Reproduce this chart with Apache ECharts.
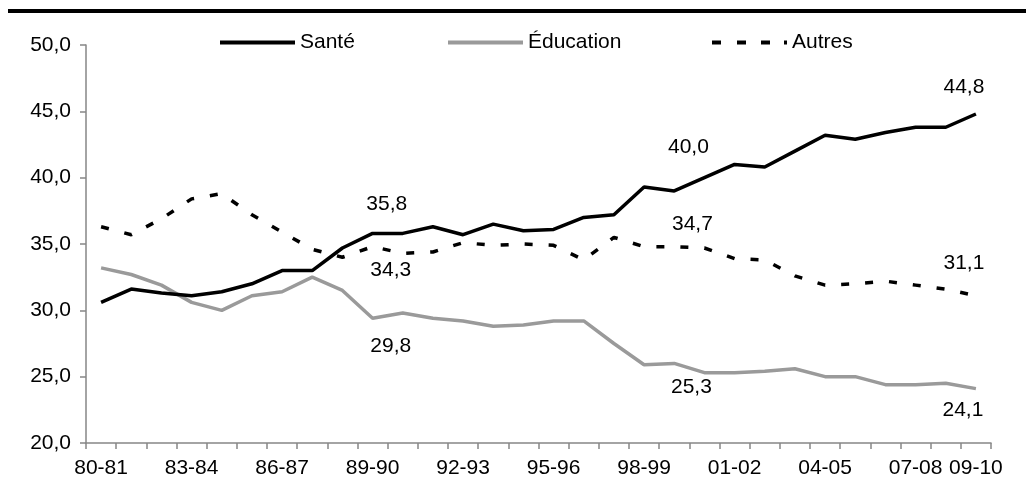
<!DOCTYPE html>
<html lang="fr">
<head>
<meta charset="utf-8">
<title>Santé, Éducation, Autres</title>
<script src="https://cdn.jsdelivr.net/npm/echarts@6/dist/echarts.min.js"></script>
<style>
  html, body { margin: 0; padding: 0; background: #fff; }
  #chart { width: 1026px; height: 503px; }
</style>
</head>
<body>
<div id="chart"></div>
<script>
// Fiscal years 1980-81 to 2009-10
const years = [
  '80-81','81-82','82-83','83-84','84-85','85-86','86-87','87-88','88-89','89-90',
  '90-91','91-92','92-93','93-94','94-95','95-96','96-97','97-98','98-99','99-00',
  '00-01','01-02','02-03','03-04','04-05','05-06','06-07','07-08','08-09','09-10'
];

// Shares (%) by sector
const sante = [
  30.6, 31.6, 31.3, 31.1, 31.4, 32.0, 33.0, 33.0, 34.7, 35.8,
  35.8, 36.3, 35.7, 36.5, 36.0, 36.1, 37.0, 37.2, 39.3, 39.0,
  40.0, 41.0, 40.8, 42.0, 43.2, 42.9, 43.4, 43.8, 43.8, 44.8
];
const education = [
  33.2, 32.7, 31.9, 30.6, 30.0, 31.1, 31.4, 32.5, 31.5, 29.4,
  29.8, 29.4, 29.2, 28.8, 28.9, 29.2, 29.2, 27.5, 25.9, 26.0,
  25.3, 25.3, 25.4, 25.6, 25.0, 25.0, 24.4, 24.4, 24.5, 24.1
];
const autres = [
  36.3, 35.7, 36.9, 38.4, 38.8, 37.2, 35.9, 34.6, 34.0, 34.8,
  34.3, 34.4, 35.1, 34.9, 35.0, 34.9, 33.8, 35.5, 34.8, 34.8,
  34.7, 33.9, 33.8, 32.6, 31.9, 32.0, 32.2, 31.9, 31.6, 31.1
];

// Years whose values are written on the lines
const labelledYears = ['90-91', '00-01', '09-10'];

const FONT = "'Liberation Sans', Arial, sans-serif";
const fmt = v => Number(v).toFixed(1).replace('.', ',');

// Value labels, shifted above or below each line
function valueLabels(values, offsets) {
  return labelledYears.map((y, k) => {
    const i = years.indexOf(y);
    return {
      coord: [i, values[i]],
      value: values[i],
      label: { offset: offsets[k] }
    };
  });
}

function markLabels(values, offsets) {
  return {
    symbol: 'circle',
    symbolSize: 0,
    silent: true,
    label: {
      show: true,
      position: 'inside',
      color: '#000',
      fontFamily: FONT,
      fontSize: 21,
      formatter: p => fmt(p.value)
    },
    data: valueLabels(values, offsets)
  };
}

// Legend keys: a solid bar, and a dashed one for "Autres"
const SOLID_KEY = 'path://M0,0h75v4h-75z';
const DASH_KEY = 'path://M0,0h9v4h-9z M25,0h9v4h-9z M49,0h9v4h-9z M72,0h3v4h-3z';

const chart = echarts.init(document.getElementById('chart'), null, { renderer: 'canvas' });

const legendBase = {
  top: 27,
  itemWidth: 75,
  itemHeight: 4,
  itemGap: 0,
  selectedMode: false,
  textStyle: { color: '#000', fontFamily: FONT, fontSize: 21, padding: 0 }
};

chart.setOption({
  animation: false,
  backgroundColor: '#fff',
  graphic: [{
    type: 'rect',
    shape: { x: 8, y: 9, width: 1030, height: 4 },
    style: { fill: '#000' },
    silent: true
  }],
  legend: [
    Object.assign({}, legendBase, { left: 215, data: [{ name: 'Santé', icon: SOLID_KEY }] }),
    Object.assign({}, legendBase, { left: 443, data: [{ name: 'Éducation', icon: SOLID_KEY }] }),
    Object.assign({}, legendBase, { left: 707, data: [{ name: 'Autres', icon: DASH_KEY }] })
  ],
  grid: { left: 86, right: 35, top: 45, bottom: 60 },
  xAxis: {
    type: 'category',
    data: years,
    boundaryGap: true,
    axisLine: { lineStyle: { color: '#868686', width: 1.5 } },
    axisTick: { show: true, interval: 0, length: 6, lineStyle: { color: '#868686', width: 1.5 } },
    axisLabel: {
      interval: (i) => i % 3 === 0 || i === years.length - 1,
      color: '#000',
      fontFamily: FONT,
      fontSize: 21,
      margin: 15
    },
    splitLine: { show: false }
  },
  yAxis: {
    type: 'value',
    min: 20,
    max: 50,
    interval: 5,
    axisLine: { show: true, lineStyle: { color: '#868686', width: 1.5 } },
    axisTick: { show: true, length: 6, lineStyle: { color: '#868686', width: 1.5 } },
    axisLabel: { color: '#000', fontFamily: FONT, fontSize: 21, margin: 15, formatter: fmt },
    splitLine: { show: false }
  },
  series: [
    {
      name: 'Santé',
      type: 'line',
      data: sante,
      symbol: 'none',
      color: '#000',
      lineStyle: { color: '#000', width: 3.5 },
      z: 4,
      markPoint: markLabels(sante, [[-16, -29], [-16, -30], [-12, -27]])
    },
    {
      name: 'Éducation',
      type: 'line',
      data: education,
      symbol: 'none',
      color: '#9a9a9a',
      lineStyle: { color: '#9a9a9a', width: 3.5 },
      z: 3,
      markPoint: markLabels(education, [[-12, 33], [-13, 15], [-13, 22]])
    },
    {
      name: 'Autres',
      type: 'line',
      data: autres,
      symbol: 'none',
      color: '#000',
      lineStyle: { color: '#000', width: 3.5, type: [8, 16] },
      z: 3,
      markPoint: markLabels(autres, [[-12, 17], [-12, -24], [-12, -33]])
    }
  ]
});
</script>
</body>
</html>
